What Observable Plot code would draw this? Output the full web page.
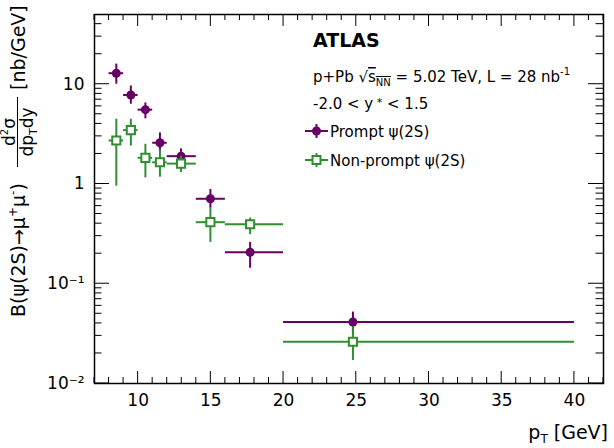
<!DOCTYPE html>
<html><head><meta charset="utf-8">
<script src="https://cdn.jsdelivr.net/npm/d3@7"></script>
<script src="https://cdn.jsdelivr.net/npm/@observablehq/plot@0.6"></script>
<style>body{margin:0;background:#fff} svg{display:block}</style>
</head><body><div id="chart"></div>
<script>
// pT bins [GeV] and mean pT of each bin
const binLo  = [8, 9, 10, 11, 12, 14, 16, 20];
const binHi  = [9, 10, 11, 12, 14, 16, 20, 40];
const ptMean = [8.5, 9.5, 10.5, 11.5, 12.95, 14.97, 17.7, 24.77];

// Prompt psi(2S) [nb/GeV] with error band
const promptY  = [12.9, 7.8, 5.56, 2.59, 1.90, 0.711, 0.207, 0.0413];
const promptLo = [10.0, 6.3, 4.5, 2.05, 1.65, 0.57, 0.143, 0.0316];
const promptHi = [15.9, 9.6, 6.5, 3.25, 2.25, 0.88, 0.26, 0.052];

// Non-prompt psi(2S)
const npY  = [2.73, 3.47, 1.83, 1.65, 1.60, 0.414, 0.395, 0.0262];
const npLo = [0.95, 2.4, 1.15, 1.17, 1.3, 0.26, 0.31, 0.017];
const npHi = [4.45, 4.45, 2.5, 2.2, 1.9, 0.57, 0.455, 0.037];

// axis ticks
const xMajor = [10, 15, 20, 25, 30, 35, 40];
const xMinor = [7, 8, 9, 11, 12, 13, 14, 16, 17, 18, 19, 21, 22, 23, 24, 26, 27, 28, 29, 31, 32, 33, 34, 36, 37, 38, 39, 41, 42];
const yMajor = [0.01, 0.1, 1, 10];
const yTickLabels = ["10\u207B\u00B2", "10\u207B\u00B9", "1", "10"];
const yMinor = [0.02, 0.03, 0.04, 0.05, 0.06, 0.07, 0.08, 0.09,
                0.2, 0.3, 0.4, 0.5, 0.6, 0.7, 0.8, 0.9,
                2, 3, 4, 5, 6, 7, 8, 9, 20, 30, 40];

const W = 614, H = 448, mL = 94, mR = 11, mT = 14, mB = 65;
const purple = "#660066", green = "#2f8f2f";

const promptRows = binLo.map((lo, i) => ({lo, hi: binHi[i], x: ptMean[i], y: promptY[i], ylo: promptLo[i], yhi: promptHi[i]}));
const nonpromptRows = binLo.map((lo, i) => ({lo, hi: binHi[i], x: ptMean[i], y: npY[i], ylo: npLo[i], yhi: npHi[i]}));

const font = "DejaVu Sans";

const plot = Plot.plot({
  width: W, height: H,
  marginLeft: mL, marginRight: mR, marginTop: mT, marginBottom: mB,
  style: {fontFamily: font, fontSize: "17px", color: "#000", background: "#fff"},
  x: {domain: [7, 42]},
  y: {type: "log", domain: [0.01, 50]},
  marks: [
    Plot.axisX(xMajor, {tickSize: 0, tickPadding: 10, label: null, fontSize: 17}),
    Plot.axisY(yMajor, {tickSize: 0, tickPadding: 10, label: null, fontSize: 17,
      tickFormat: d => yTickLabels[yMajor.indexOf(d)]}),
    // prompt
    Plot.ruleY(promptRows, {y: "y", x1: "lo", x2: "hi", stroke: purple, strokeWidth: 2}),
    Plot.ruleX(promptRows, {x: "x", y1: "ylo", y2: "yhi", stroke: purple, strokeWidth: 2}),
    Plot.dot(promptRows, {x: "x", y: "y", r: 4.5, fill: purple, symbol: "circle"}),
    // non-prompt
    Plot.ruleY(nonpromptRows, {y: "y", x1: "lo", x2: "hi", stroke: green, strokeWidth: 2}),
    Plot.ruleX(nonpromptRows, {x: "x", y1: "ylo", y2: "yhi", stroke: green, strokeWidth: 2}),
    Plot.dot(nonpromptRows, {x: "x", y: "y", r: 4.6, symbol: "square", fill: "white", stroke: green, strokeWidth: 2}),
    Plot.frame({stroke: "#000", strokeWidth: 1.5})
  ]
});

document.getElementById("chart").appendChild(plot);

const svg = d3.select(plot);
const sx = plot.scale("x"), sy = plot.scale("y");
const x0 = sx.range[0], x1 = sx.range[1];
const yBot = sy.range[0], yTop = sy.range[1];

// inside ROOT-style ticks on all four sides, positioned through Plot's scales
const tk = svg.append("g").attr("stroke", "#000").attr("stroke-width", 1);
function xTicks(vals, len) {
  vals.forEach(v => {
    const px = sx.apply(v);
    tk.append("line").attr("x1", px).attr("x2", px).attr("y1", yBot).attr("y2", yBot - len);
    tk.append("line").attr("x1", px).attr("x2", px).attr("y1", yTop).attr("y2", yTop + len);
  });
}
function yTicks(vals, len) {
  vals.forEach(v => {
    const py = sy.apply(v);
    tk.append("line").attr("x1", x0).attr("x2", x0 + len).attr("y1", py).attr("y2", py);
    tk.append("line").attr("x1", x1).attr("x2", x1 - len).attr("y1", py).attr("y2", py);
  });
}
xTicks(xMajor, 12); xTicks(xMinor, 6);
yTicks(yMajor, 15); yTicks(yMinor, 7.5);

const g = svg.append("g").attr("font-family", font).attr("fill", "#000").attr("text-anchor", "start");

// ATLAS label and info
g.append("text").attr("x", 313).attr("y", 47).attr("font-size", 19).attr("font-weight", "bold").text("ATLAS");
const t2 = g.append("text").attr("x", 313).attr("y", 82).attr("font-size", 15);
t2.append("tspan").text("p+Pb \u221A");
t2.append("tspan").attr("text-decoration", "overline").text("s");
t2.append("tspan").attr("font-size", 10).attr("dy", 4).attr("text-decoration", "overline").text("NN");
t2.append("tspan").attr("dy", -4).text(" = 5.02 TeV, L = 28 nb");
t2.append("tspan").attr("font-size", 10).attr("dy", -7).text("-1");
const t3 = g.append("text").attr("x", 313).attr("y", 109).attr("font-size", 15);
t3.append("tspan").text("-2.0 < y");
t3.append("tspan").attr("font-size", 11).attr("dy", -3).text(" *");
t3.append("tspan").attr("dy", 3).text(" < 1.5");

// legend
function legendEntry(y, color, open, label) {
  g.append("line").attr("x1", 305).attr("x2", 328).attr("y1", y).attr("y2", y).attr("stroke", color).attr("stroke-width", 2);
  g.append("line").attr("x1", 316.5).attr("x2", 316.5).attr("y1", y - 7).attr("y2", y + 7).attr("stroke", color).attr("stroke-width", 2);
  if (open) {
    g.append("rect").attr("x", 316.5 - 4).attr("y", y - 4).attr("width", 8).attr("height", 8).attr("fill", "#fff").attr("stroke", color).attr("stroke-width", 2);
  } else {
    g.append("circle").attr("cx", 316.5).attr("cy", y).attr("r", 4.5).attr("fill", color);
  }
  g.append("text").attr("x", 330).attr("y", y + 6).attr("font-size", 15).text(label);
}
legendEntry(131, purple, false, "Prompt \u03C8(2S)");
legendEntry(160, green, true, "Non-prompt \u03C8(2S)");

// x title
const xt = g.append("text").attr("x", 608).attr("y", 439).attr("font-size", 19).attr("text-anchor", "end");
xt.append("tspan").text("p");
xt.append("tspan").attr("font-size", 12).attr("dy", 4).text("T");
xt.append("tspan").attr("dy", -4).text(" [GeV]");

// y title (rotated)
const yg = g.append("g").attr("transform", "translate(0,317) rotate(-90)");
const ym = yg.append("text").attr("x", 0).attr("y", 25).attr("font-size", 19);
ym.append("tspan").text("B(\u03C8(2S)\u2192\u03BC");
ym.append("tspan").attr("font-size", 12).attr("dy", -8).text("+");
ym.append("tspan").attr("dy", 8).text("\u03BC");
ym.append("tspan").attr("font-size", 12).attr("dy", -8).text("-");
ym.append("tspan").attr("dy", 8).text(")");
yg.append("line").attr("x1", 150).attr("x2", 220).attr("y1", 17.5).attr("y2", 17.5).attr("stroke", "#000").attr("stroke-width", 1);
const num = yg.append("text").attr("x", 185).attr("y", 15).attr("font-size", 17).attr("text-anchor", "middle");
num.append("tspan").text("d");
num.append("tspan").attr("font-size", 10).attr("dy", -7).text("2");
num.append("tspan").attr("dy", 7).text("\u03C3");
const den = yg.append("text").attr("x", 185).attr("y", 33).attr("font-size", 17).attr("text-anchor", "middle");
den.append("tspan").text("dp");
den.append("tspan").attr("font-size", 11).attr("dy", 4).text("T");
den.append("tspan").attr("dy", -4).text("dy");
yg.append("text").attr("x", 227).attr("y", 25).attr("font-size", 19).text("[nb/GeV]");
</script>
</body></html>
